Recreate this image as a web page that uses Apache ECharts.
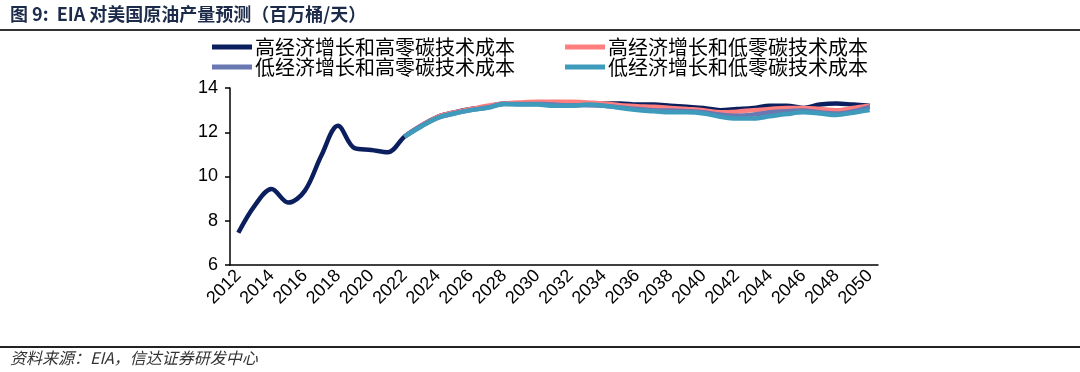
<!DOCTYPE html>
<html><head><meta charset="utf-8">
<script src="https://cdn.jsdelivr.net/npm/echarts@6/dist/echarts.min.js"></script>
<style>html,body{margin:0;padding:0;background:#fff}#c{width:1080px;height:372px}</style>
</head><body><div id="c"></div>
<script>
const years = ['2012','2013','2014','2015','2016','2017','2018','2019','2020','2021','2022','2023','2024','2025','2026','2027','2028','2029','2030','2031','2032','2033','2034','2035','2036','2037','2038','2039','2040','2041','2042','2043','2044','2045','2046','2047','2048','2049','2050'];
const seriesNames = ['高经济增长和高零碳技术成本','高经济增长和低零碳技术成本','低经济增长和高零碳技术成本','低经济增长和低零碳技术成本'];
const history = [7.46, 8.7, 9.43, 8.82, 9.35, 10.95, 12.29, 11.28, 11.2, 11.1, 11.8];
const highHigh = [11.8,12.3,12.7,12.9,13.05,13.15,13.3,13.3,13.3,13.3,13.3,13.3,13.3,13.3,13.25,13.25,13.2,13.15,13.1,13.0,13.05,13.1,13.2,13.2,13.1,13.25,13.3,13.25,13.2];
const highLow = [11.8,12.3,12.7,12.9,13.05,13.2,13.3,13.35,13.38,13.38,13.38,13.35,13.3,13.22,13.18,13.15,13.1,13.05,13.0,12.9,12.93,13.0,13.05,13.1,13.1,13.05,13.0,13.1,13.2];
const lowHigh = [11.8,12.28,12.65,12.85,13.0,13.12,13.28,13.28,13.28,13.25,13.22,13.22,13.2,13.12,13.05,13.0,12.98,12.95,12.9,12.8,12.75,12.8,12.9,12.95,12.98,12.9,12.85,12.95,13.15];
const lowLow = [11.8,12.25,12.65,12.85,13.0,13.1,13.28,13.25,13.25,13.2,13.2,13.25,13.2,13.1,13.0,12.95,12.9,12.9,12.85,12.7,12.62,12.62,12.72,12.82,12.9,12.85,12.78,12.88,13.0];
const yTicks = [6, 8, 10, 12, 14];

const pad = new Array(history.length - 1).fill(null);
const colors = ['#0b1f5e','#ff7f7f','#6a78b2','#3f9bbb'];
const navyFull = history.concat(highHigh.slice(1));
const dataSets = [navyFull, pad.concat(highLow), pad.concat(lowHigh), pad.concat(lowLow)];

const chart = echarts.init(document.getElementById('c'));
const font = '"Noto Sans CJK SC", "Liberation Sans", Arial, sans-serif';
const legendBase = {
  itemWidth: 40, itemHeight: 5, itemGap: 50, icon: 'rect', orient: 'horizontal', padding: 0,
  textStyle: {fontSize: 20, color: '#000', fontFamily: font, padding: [0,0,0,-2]}
};
chart.setOption({
  animation: false,
  textStyle: {fontFamily: font},
  grid: {left: 230, right: 202, top: 88, bottom: 107},
  legend: [
    Object.assign({}, legendBase, {data: [seriesNames[0], seriesNames[1]], left: 212, top: 37}),
    Object.assign({}, legendBase, {data: [seriesNames[2], seriesNames[3]], left: 212, top: 57})
  ],
  xAxis: {
    type: 'category', data: years, boundaryGap: true,
    axisLine: {lineStyle: {color: '#000', width: 1.5}},
    axisTick: {interval: 0, length: 5, lineStyle: {color: '#000', width: 1.5}},
    axisLabel: {interval: 1, rotate: 45, fontSize: 18, color: '#000', margin: 8, fontFamily: '"Liberation Sans", Arial, sans-serif'}
  },
  yAxis: {
    type: 'value', min: yTicks[0], max: yTicks[yTicks.length-1], interval: 2,
    axisLine: {show: true, lineStyle: {color: '#000', width: 1.5}},
    axisTick: {show: true, length: 5, lineStyle: {color: '#000', width: 1.5}},
    splitLine: {show: false},
    axisLabel: {fontSize: 18, color: '#000', margin: 12, fontFamily: '"Liberation Sans", Arial, sans-serif'}
  },
  series: seriesNames.map((n, i) => ({
    name: n, type: 'line', data: dataSets[i], smooth: 0.35, showSymbol: false,
    connectNulls: false, z: 2 + i,
    lineStyle: {color: colors[i], width: 4.5}, itemStyle: {color: colors[i]}
  })),
  graphic: [
    {type: 'text', left: 10, top: 5, style: {text: '图 9:  EIA 对美国原油产量预测（百万桶/天）', font: 'bold 18px ' + font, fill: '#1c2b4a'}},
    {type: 'rect', shape: {x: 0, y: 29, width: 1080, height: 2}, style: {fill: '#333'}},
    {type: 'rect', shape: {x: 0, y: 346, width: 1080, height: 2}, style: {fill: '#222'}},
    {type: 'text', left: 10, top: 350, style: {text: '资料来源：EIA，信达证券研发中心', font: 'italic 16px ' + font, fill: '#333'}}
  ]
});
</script></body></html>
